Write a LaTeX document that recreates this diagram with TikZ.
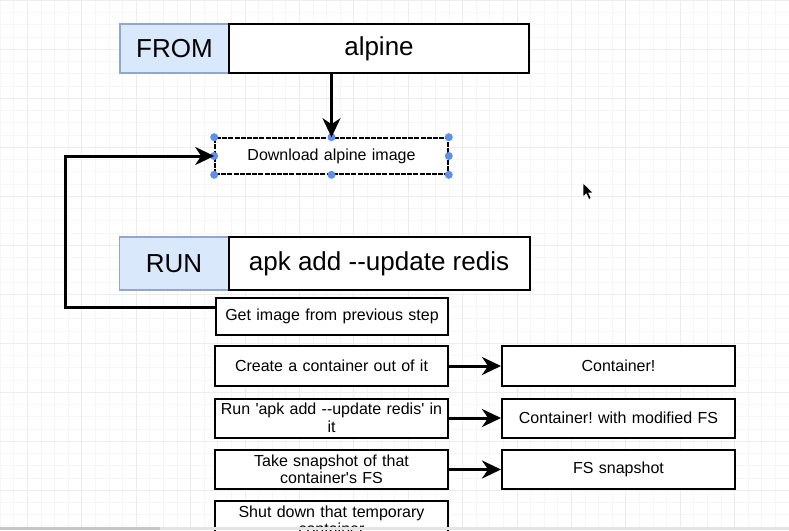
\documentclass[tikz,border=0pt]{standalone}
\usepackage{fontspec}
\setmainfont{Liberation Sans}[Ligatures=TeXOff]
\usetikzlibrary{arrows.meta}
\frenchspacing
\newcommand{\bigtext}{\fontsize{26}{30}\selectfont}
\newcommand{\smalltext}{\fontsize{16}{17.5}\selectfont}
\definecolor{keyfill}{HTML}{DAE8FC}
\definecolor{keyline}{HTML}{8FA7D4}
\definecolor{handleblue}{HTML}{5B8FF0}
\definecolor{gridminor}{HTML}{F6F6F6}
\definecolor{gridmajor}{HTML}{EDEDED}

\begin{document}
\begin{tikzpicture}[x=1pt,y=1pt,
  key/.style={draw=keyline, fill=keyfill, line width=1.5pt, minimum width=109pt, minimum height=49pt, inner sep=0pt, font=\bigtext},
  cmd/.style={draw, fill=white, line width=2pt, minimum height=49pt, inner sep=0pt, font=\bigtext},
  stepbox/.style={draw, fill=white, line width=2pt, minimum width=233pt, minimum height=39pt, text width=226pt, align=center, inner sep=0pt, font=\smalltext},
  flow/.style={line width=3pt, -{Stealth[length=19pt,width=18pt,inset=6pt]}}]

\useasboundingbox (0,0) rectangle (789,-530);
\fill[white] (0,0) rectangle (789,-530);
\draw[gridminor, line width=.5pt, xstep=13.6, ystep=12.25] (0,-530) grid (789,0);
\draw[gridmajor, line width=.5pt, xstep=54.4, ystep=49, xshift=27.2] (-27.2,-530) grid (761.8,0);

% FROM alpine
\node (from) at (174.5,-48.5) [key] {FROM};
\node (alpine) at (379,-48.5) [cmd, minimum width=300pt] {alpine};
\node (dl) at (331.5,-156) [stepbox, minimum height=36pt, line width=1.6pt, dash pattern=on 5pt off 1.2pt] {Download alpine image};
\fill[handleblue]
(dl.north west) circle (4) (dl.north) circle (4) (dl.north east) circle (4)
(dl.west) circle (4) (dl.east) circle (4)
(dl.south west) circle (4) (dl.south) circle (4) (dl.south east) circle (4);

% RUN apk
\node (run) at (174,-263.5) [key, minimum height=53pt] {RUN};
\node (apk) at (379,-263.5) [cmd, minimum width=301pt, minimum height=53pt] {apk add --update redis};

\node (prev) at (332,-316) [stepbox, minimum width=232pt, minimum height=37pt] {Get image from previous step};
\node (create) at (331.5,-366) [stepbox, minimum height=40pt] {Create a container out of it};
\node (cont1) at (618.5,-366) [stepbox, minimum height=40pt] {Container!};
\node (runit) at (331.5,-418) [stepbox] {Run \textquotesingle apk add --update redis\textquotesingle{} in\\it};
\node (cont2) at (618.5,-418) [stepbox] {Container! with modified FS};
\node (snap) at (331.5,-469.5) [stepbox] {Take snapshot of that\\container\textquotesingle s FS};
\node (fs) at (618.5,-469.5) [stepbox] {FS snapshot};
\node (shut) at (331.5,-520.5) [stepbox] {Shut down that temporary\\container};

\coordinate (corner) at (65,-156);

\draw[flow]
(alpine.south -| dl.north) to (dl.north);
\draw[flow]
([yshift=9pt]prev.west) -| (corner) -- (dl.west);
\draw[flow]
(create) to (cont1);
\draw[flow]
(runit) to (cont2);
\draw[flow]
(snap) to (fs);

% cursor
\filldraw[fill=black, draw=white, line width=.5pt]
(583,-183) -- ++(0,-14) -- ++(3.3,3.3) -- ++(2.6,-5.6) -- ++(2.2,1) -- ++(-2.5,5.4) -- ++(4.6,0) -- cycle;

\fill[black!22] (0,-526.5) rectangle (160,-530);
\fill[black!10] (160,-526.5) rectangle (789,-530);

\end{tikzpicture}
\end{document}
